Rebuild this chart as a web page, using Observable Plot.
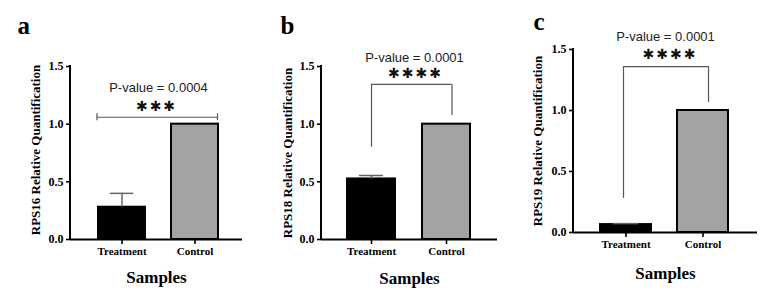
<!DOCTYPE html>
<html><head><meta charset="utf-8">
<script src="https://cdn.jsdelivr.net/npm/d3@7"></script>
<script src="https://cdn.jsdelivr.net/npm/@observablehq/plot@0.6"></script>
<style>
html,body{margin:0;padding:0;background:#fff;}
#wrap{position:relative;width:773px;height:296px;overflow:hidden;background:#fff;}
</style></head><body><div id="wrap"></div>
<script>
// ---- data ----
const samples = ["Treatment", "Control"];
const genes = ["RPS16", "RPS18", "RPS19"];
const panelLetters = ["a", "b", "c"];
const treatmentMean = [0.28, 0.525, 0.065];
const treatmentSEM = [0.12, 0.03, 0.008];
const controlMean = [1.0, 1.0, 1.0];
const controlSEM = [0, 0, 0];
const pValues = ["0.0004", "0.0001", "0.0001"];
const significance = ["***", "****", "****"];
const bracketLevel = [1.06, 1.345, 1.36];
const bracketLegTreatment = [null, 0.80, 0.28];
const bracketLegControl = [null, 1.075, 1.066];
const yTicks = [0, 0.5, 1.0, 1.5];
const xTitle = "Samples";
const yTitleSuffix = " Relative Quantification";

// ---- layout / style per panel ----
const layout = [
  {left: 0, width: 260, mL: 70, mR: 18, mT: 66, mB: 57, pi: 0.363, po: 0.348, align: 0.54, bw: 47,
   cap: true, bInL: -1.5, bInR: 1,
   letter: {dx: -53, dy: -41}, ylab: {dx: -35, dy: -3}, xlab: {dy: 37.6},
   pv: {dx: 2, dy: 21}, st: {dx: 0, dy: 40}},
  {left: 260, width: 260, mL: 61, mR: 23, mT: 66, mB: 57, pi: 0.366, po: 0.345, align: 0.486, bw: 48,
   cap: false, legTdx: 0, legCdx: 5.5,
   letter: {dx: -41, dy: -41}, ylab: {dx: -34, dy: 0}, xlab: {dy: 38.6},
   pv: {dx: 5, dy: -8.7}, st: {dx: 6, dy: 7.5}},
  {left: 520, width: 253, mL: 53, mR: 16, mT: 49, mB: 64, pi: 0.34, po: 0.35, align: 0.486, bw: 51,
   cap: false, legTdx: -2.5, legCdx: 5.5,
   letter: {dx: -40, dy: -27.7}, ylab: {dx: -36, dy: 0}, xlab: {dy: 40.6},
   pv: {dx: 0, dy: -12.7}, st: {dx: 4.5, dy: 5}}
];

const serif = "'Liberation Serif', 'Times New Roman', serif";
const sans = "'Liberation Sans', Arial, sans-serif";
const starFont = "'DejaVu Sans', sans-serif";
const bracketColor = "#555";
const errColor = "#666";

// left axis line, drawn along the frame's left edge
function leftAxisLine(index, scales, values, dims) {
  const l = d3.create("svg:line")
    .attr("x1", dims.marginLeft).attr("x2", dims.marginLeft)
    .attr("y1", dims.marginTop - 1).attr("y2", dims.height - dims.marginBottom + 1)
    .attr("stroke", "black").attr("stroke-width", 2);
  return l.node();
}

function panel(i) {
  const L = layout[i];
  const rows = samples.map((s, j) => ({
    sample: s,
    value: j === 0 ? treatmentMean[i] : controlMean[i],
    sem: j === 0 ? treatmentSEM[i] : controlSEM[i]
  }));
  const errRows = rows.filter(d => d.sem > 0);
  const marks = [
    Plot.barY(rows, {x: "sample", y: "value", fill: "sample", stroke: "black", strokeWidth: 2}),
    Plot.ruleX(errRows, {x: "sample", y1: "value", y2: d => d.value + d.sem, stroke: errColor, strokeWidth: 1.5}),
    Plot.ruleY(errRows, {x1: "sample", x2: "sample", y: d => d.value + d.sem, insetLeft: L.bw / 4, insetRight: L.bw / 4, stroke: errColor, strokeWidth: 1.5}),
    Plot.ruleY([0], {strokeWidth: 2}),
    leftAxisLine,
    Plot.axisY({ticks: yTicks, tickSize: 4, tickPadding: 3, tickFormat: d3.format(".1f"), label: null, strokeWidth: 1.6, fontSize: 12}),
    Plot.axisX({tickSize: 5, tickPadding: 3, label: null, strokeWidth: 1.6, fontSize: 11}),
  ];
  const lvl = bracketLevel[i];
  if (L.cap) {
    marks.push(
      Plot.ruleY([lvl], {y: d => d, x1: () => samples[0], x2: () => samples[1], insetLeft: L.bInL, insetRight: L.bInR, stroke: bracketColor, strokeWidth: 1.2}),
      Plot.ruleX([lvl], {x: () => samples[0], y1: d => d - 0.03, y2: d => d + 0.03, dx: -L.bw / 2 + L.bInL, stroke: bracketColor, strokeWidth: 1.2}),
      Plot.ruleX([lvl], {x: () => samples[1], y1: d => d - 0.03, y2: d => d + 0.03, dx: L.bw / 2 - L.bInR, stroke: bracketColor, strokeWidth: 1.2})
    );
  } else {
    marks.push(
      Plot.ruleY([lvl], {y: d => d, x1: () => samples[0], x2: () => samples[1], insetLeft: L.bw / 2 + L.legTdx, insetRight: L.bw / 2 - L.legCdx, stroke: bracketColor, strokeWidth: 1.2}),
      Plot.ruleX([lvl], {x: () => samples[0], y1: () => bracketLegTreatment[i], y2: d => d, dx: L.legTdx, stroke: bracketColor, strokeWidth: 1.2}),
      Plot.ruleX([lvl], {x: () => samples[1], y1: () => bracketLegControl[i], y2: d => d, dx: L.legCdx, stroke: bracketColor, strokeWidth: 1.2})
    );
  }
  marks.push(
    Plot.text([pValues[i]], {text: d => "P-value = " + d, frameAnchor: "top", textAnchor: "middle", lineAnchor: "middle", dx: L.pv.dx, dy: L.pv.dy, fontFamily: sans, fontWeight: "normal", fontSize: 13, fill: "#222"}),
    Plot.text([significance[i]], {text: d => d.replace(/\*/g, "\u2731"), frameAnchor: "top", textAnchor: "middle", lineAnchor: "middle", dx: L.st.dx, dy: L.st.dy, fontFamily: starFont, fontWeight: "bold", fontSize: 14, fill: "#111"}),
    Plot.text([panelLetters[i]], {text: d => d, frameAnchor: "top-left", textAnchor: "start", lineAnchor: "middle", dx: L.letter.dx, dy: L.letter.dy, fontFamily: serif, fontWeight: "bold", fontSize: 25, fill: "black"}),
    Plot.text([genes[i]], {text: d => d + yTitleSuffix, frameAnchor: "left", textAnchor: "middle", rotate: -90, lineAnchor: "middle", dx: L.ylab.dx, dy: L.ylab.dy, fontFamily: serif, fontWeight: "bold", fontSize: 13, fill: "black"}),
    Plot.text([xTitle], {text: d => d, frameAnchor: "bottom", textAnchor: "middle", lineAnchor: "middle", dy: L.xlab.dy, fontFamily: serif, fontWeight: "bold", fontSize: 17, fill: "black"})
  );
  const svg = Plot.plot({
    width: L.width, height: 296,
    marginLeft: L.mL, marginRight: L.mR, marginTop: L.mT, marginBottom: L.mB,
    style: {fontFamily: serif, fontWeight: "bold", fontSize: "11px", color: "black", background: "transparent", overflow: "visible"},
    x: {domain: samples, paddingInner: L.pi, paddingOuter: L.po, align: L.align},
    y: {domain: [0, 1.5]},
    color: {domain: samples, range: ["#000000", "#a3a3a6"]},
    marks
  });
  svg.querySelectorAll("text").forEach(t => {
    if (/^\u2731+$/.test(t.textContent)) t.setAttribute("letter-spacing", "2");
  });
  svg.style.position = "absolute";
  svg.style.left = L.left + "px";
  svg.style.top = "0px";
  return svg;
}

const wrap = document.getElementById("wrap");
for (let i = 0; i < 3; i++) wrap.appendChild(panel(i));
</script>
</body></html>
